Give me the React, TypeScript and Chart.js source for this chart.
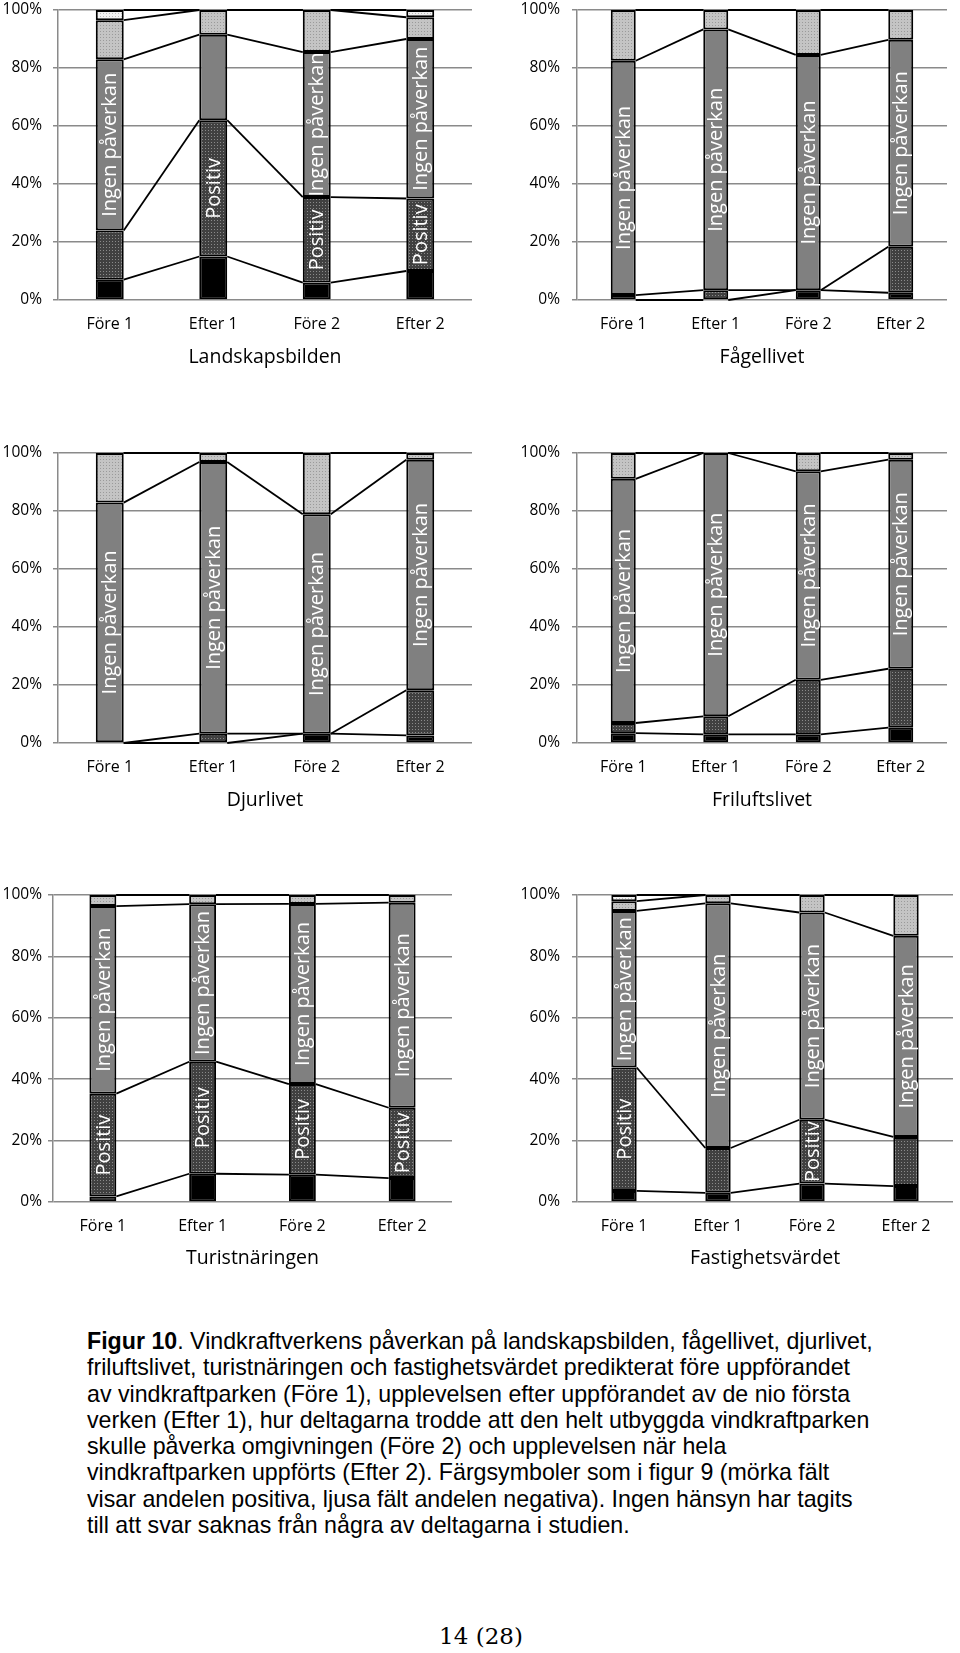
import React, { useEffect, useRef } from "react";
import { Chart, registerables } from "chart.js";
Chart.register(...registerables);

const categories = ["Före 1", "Efter 1", "Före 2", "Efter 2"];
const seriesNames = ["Mycket positiv", "Positiv", "Ingen påverkan", "Negativ", "Mycket negativ"];
const yTickValues = [0, 20, 40, 60, 80, 100];

// Landskapsbilden
const landVeryPos = [7, 15, 6, 10];
const landPos = [17, 47, 29.5, 25];
const landNone = [59, 29.5, 50, 55];
const landNeg = [13.5, 8.5, 14.5, 7.5];
const landVeryNeg = [3.5, 0, 0, 2.5];
const landPosLabel = [false, true, true, true];
const landNoneLabel = [true, false, true, true];

// Fågellivet
const birdVeryPos = [0, 0, 3.4, 2.5];
const birdPos = [1.7, 3.4, 0, 15.9];
const birdNone = [80.8, 89.9, 81.1, 71.3];
const birdNeg = [17.5, 6.7, 15.5, 10.3];
const birdVeryNeg = [0, 0, 0, 0];
const birdPosLabel = [false, false, false, false];
const birdNoneLabel = [true, true, true, true];

// Djurlivet
const animVeryPos = [0, 0, 3.2, 2.6];
const animPos = [0, 3.2, 0, 15.6];
const animNone = [82.9, 93.7, 75.7, 79.5];
const animNeg = [17.1, 3.1, 21.1, 2.3];
const animVeryNeg = [0, 0, 0, 0];
const animPosLabel = [false, false, false, false];
const animNoneLabel = [true, true, true, true];

// Friluftslivet
const outVeryPos = [3.4, 3.0, 3.0, 5.3];
const outPos = [3.5, 6.2, 18.8, 20.3];
const outNone = [84.2, 90.8, 71.9, 72.1];
const outNeg = [8.9, 0, 6.3, 2.3];
const outVeryNeg = [0, 0, 0, 0];
const outPosLabel = [false, false, false, false];
const outNoneLabel = [true, true, true, true];

// Turistnäringen
const tourVeryPos = [1.8, 9.2, 8.9, 7.8];
const tourPos = [33.5, 36.5, 29.5, 22.9];
const tourNone = [61.1, 51.3, 58.7, 66.8];
const tourNeg = [3.6, 3.0, 2.9, 2.5];
const tourVeryNeg = [0, 0, 0, 0];
const tourPosLabel = [true, true, true, true];
const tourNoneLabel = [true, true, true, true];

// Fastighetsvärdet
const propVeryPos = [3.6, 3.0, 6.0, 5.2];
const propPos = [40.2, 14.6, 20.8, 16.0];
const propNone = [51.0, 79.7, 67.5, 65.5];
const propNeg = [3.2, 2.7, 5.7, 13.3];
const propVeryNeg = [2.0, 0, 0, 0];
const propPosLabel = [true, false, true, false];
const propNoneLabel = [true, true, true, true];

const FONT = "'Open Sans', 'DejaVu Sans', sans-serif";

type Box = {
  left: number; top: number; width: number; height: number;
  plotLeft: number; plotRight: number; plotTop: number; plotBottom: number; tickPad: number;
};
type Panel = {
  title: string;
  series: number[][];
  posLabels: boolean[];
  noneLabels: boolean[];
  box: Box;
};

const panels: Panel[] = [
  {
    title: "Landskapsbilden",
    series: [landVeryPos, landPos, landNone, landNeg, landVeryNeg],
    posLabels: landPosLabel, noneLabels: landNoneLabel,
    box: { left: 0, top: 0, width: 480, height: 369, plotLeft: 58, plotRight: 472, plotTop: 10, plotBottom: 300, tickPad: 11 },
  },
  {
    title: "Fågellivet",
    series: [birdVeryPos, birdPos, birdNone, birdNeg, birdVeryNeg],
    posLabels: birdPosLabel, noneLabels: birdNoneLabel,
    box: { left: 480, top: 0, width: 480, height: 369, plotLeft: 97, plotRight: 467, plotTop: 10, plotBottom: 300, tickPad: 12 },
  },
  {
    title: "Djurlivet",
    series: [animVeryPos, animPos, animNone, animNeg, animVeryNeg],
    posLabels: animPosLabel, noneLabels: animNoneLabel,
    box: { left: 0, top: 443, width: 480, height: 369, plotLeft: 58, plotRight: 472, plotTop: 10, plotBottom: 300, tickPad: 11 },
  },
  {
    title: "Friluftslivet",
    series: [outVeryPos, outPos, outNone, outNeg, outVeryNeg],
    posLabels: outPosLabel, noneLabels: outNoneLabel,
    box: { left: 480, top: 443, width: 480, height: 369, plotLeft: 97, plotRight: 467, plotTop: 10, plotBottom: 300, tickPad: 12 },
  },
  {
    title: "Turistnäringen",
    series: [tourVeryPos, tourPos, tourNone, tourNeg, tourVeryNeg],
    posLabels: tourPosLabel, noneLabels: tourNoneLabel,
    box: { left: 0, top: 885, width: 480, height: 385, plotLeft: 53, plotRight: 452, plotTop: 10, plotBottom: 317, tickPad: 6 },
  },
  {
    title: "Fastighetsvärdet",
    series: [propVeryPos, propPos, propNone, propNeg, propVeryNeg],
    posLabels: propPosLabel, noneLabels: propNoneLabel,
    box: { left: 480, top: 885, width: 480, height: 385, plotLeft: 97, plotRight: 473, plotTop: 10, plotBottom: 317, tickPad: 12 },
  },
];

function makePattern(bg: string, dot: string): CanvasPattern | string {
  const c = document.createElement("canvas");
  c.width = 3;
  c.height = 3;
  const g = c.getContext("2d");
  if (!g) return bg;
  g.fillStyle = bg;
  g.fillRect(0, 0, 3, 3);
  g.fillStyle = dot;
  g.fillRect(1, 1, 1, 1);
  const p = g.createPattern(c, "repeat");
  return p || bg;
}

function ChartPanel({ panel }: { panel: Panel }) {
  const ref = useRef<HTMLCanvasElement | null>(null);
  useEffect(() => {
    const canvas = ref.current;
    if (!canvas) return;
    const b = panel.box;
    const fills = [
      "#000000",
      makePattern("#404040", "#8a8a8a"),
      "#808080",
      makePattern("#c4c4c4", "#9a9a9a"),
      makePattern("#f2f2f2", "#bcbcbc"),
    ];

    const seriesLines = {
      id: "seriesLines",
      afterDatasetsDraw(chart: any) {
        const ctx = chart.ctx;
        const y = chart.scales.y;
        const meta = chart.getDatasetMeta(0);
        const ds = chart.data.datasets;
        ctx.save();
        ctx.strokeStyle = "#000";
        ctx.lineWidth = 1.8;
        for (let k = 0; k < ds.length; k++) {
          for (let i = 0; i < categories.length - 1; i++) {
            let c1 = 0;
            let c2 = 0;
            for (let s = 0; s <= k; s++) {
              c1 += ds[s].data[i];
              c2 += ds[s].data[i + 1];
            }
            const a = meta.data[i];
            const n = meta.data[i + 1];
            ctx.beginPath();
            ctx.moveTo(a.x + a.width / 2, y.getPixelForValue(Math.min(c1, 100)));
            ctx.lineTo(n.x - n.width / 2, y.getPixelForValue(Math.min(c2, 100)));
            ctx.stroke();
          }
        }
        ctx.restore();
      },
    };

    const segLabels = {
      id: "segLabels",
      afterDatasetsDraw(chart: any) {
        const ctx = chart.ctx;
        ctx.save();
        ctx.fillStyle = "#ffffff";
        ctx.font = `20px ${FONT}`;
        ctx.textAlign = "center";
        ctx.textBaseline = "middle";
        const draw = (dsIndex: number, flags: boolean[]) => {
          const meta = chart.getDatasetMeta(dsIndex);
          flags.forEach((f, i) => {
            if (!f) return;
            const el = meta.data[i];
            const cy = (el.y + el.base) / 2;
            ctx.save();
            ctx.translate(el.x + 1, cy);
            ctx.rotate(-Math.PI / 2);
            ctx.fillText(seriesNames[dsIndex], 0, 0);
            ctx.restore();
          });
        };
        draw(1, panel.posLabels);
        draw(2, panel.noneLabels);
        ctx.restore();
      },
    };

    const chart = new Chart(canvas, {
      type: "bar",
      data: {
        labels: categories,
        datasets: panel.series.map((d, s) => ({
          label: seriesNames[s],
          data: d,
          backgroundColor: fills[s] as any,
          borderColor: "#000000",
          borderWidth: 2,
          borderSkipped: false,
          barPercentage: 0.27,
          categoryPercentage: 1,
        })),
      },
      options: {
        animation: false,
        responsive: false,
        devicePixelRatio: 1,
        events: [],
        layout: {
          padding: { left: 0, top: b.plotTop, right: b.width - b.plotRight, bottom: 0 },
        },
        plugins: {
          legend: { display: false },
          tooltip: { enabled: false },
          title: { display: false },
        },
        scales: {
          x: {
            stacked: true,
            afterFit: (s: any) => {
              s.height = b.height - b.plotBottom;
              s.paddingLeft = 0;
              s.paddingRight = 0;
            },
            grid: { display: false, drawTicks: false },
            border: { display: false },
            ticks: {
              color: "#000",
              font: { family: FONT, size: 16 },
              padding: 15,
              maxRotation: 0,
              autoSkip: false,
            },
            title: {
              display: true,
              text: panel.title,
              color: "#000",
              font: { family: FONT, size: 19.5 },
              padding: { top: 0, bottom: 0 },
            },
          },
          y: {
            stacked: true,
            min: 0,
            max: 100,
            afterFit: (s: any) => {
              s.width = b.plotLeft;
              s.paddingTop = 0;
              s.paddingBottom = 0;
            },
            afterBuildTicks: (s: any) => {
              s.ticks = yTickValues.map((v) => ({ value: v }));
            },
            ticks: {
              color: "#000",
              font: { family: FONT, size: 15.5 },
              padding: b.tickPad,
              callback: (v: any) => v + "%",
            },
            grid: { color: "#8a8a8a", lineWidth: 1.5, tickLength: 5, drawTicks: true },
            border: { display: true, color: "#8a8a8a", width: 1.5 },
          },
        },
      },
      plugins: [seriesLines, segLabels],
    });
    return () => chart.destroy();
  }, [panel]);

  const b = panel.box;
  return (
    <canvas
      ref={ref}
      width={b.width}
      height={b.height}
      style={{ position: "absolute", left: b.left, top: b.top, width: b.width, height: b.height, display: "block" }}
    />
  );
}

const captionLines = [
  "Vindkraftverkens påverkan på landskapsbilden, fågellivet, djurlivet,",
  "friluftslivet, turistnäringen och fastighetsvärdet predikterat före uppförandet",
  "av vindkraftparken (Före 1), upplevelsen efter uppförandet av de nio första",
  "verken (Efter 1), hur deltagarna trodde att den helt utbyggda vindkraftparken",
  "skulle påverka omgivningen (Före 2) och upplevelsen när hela",
  "vindkraftparken uppförts (Efter 2). Färgsymboler som i figur 9 (mörka fält",
  "visar andelen positiva, ljusa fält andelen negativa). Ingen hänsyn har tagits",
  "till att svar saknas från några av deltagarna i studien.",
];

export default function App() {
  return (
    <div style={{ position: "absolute", left: 0, top: 0, width: 960, height: 1653, background: "#fff", overflow: "hidden" }}>
      {panels.map((p) => (
        <ChartPanel key={p.title} panel={p} />
      ))}
      <div
        style={{
          position: "absolute",
          left: 87,
          top: 1328,
          fontFamily: "'Liberation Sans', Arial, sans-serif",
          fontSize: 23.2,
          lineHeight: "26.3px",
          color: "#000",
          whiteSpace: "nowrap",
        }}
      >
        {captionLines.map((line, i) => (
          <div key={i}>
            {i === 0 ? (
              <>
                <b>Figur 10</b>. {line}
              </>
            ) : (
              line
            )}
          </div>
        ))}
      </div>
      <div
        style={{
          position: "absolute",
          left: 0,
          width: 962,
          top: 1623,
          textAlign: "center",
          fontFamily: "'DejaVu Serif', serif",
          fontSize: 23,
          lineHeight: "26px",
          color: "#000",
        }}
      >
        14 (28)
      </div>
    </div>
  );
}
